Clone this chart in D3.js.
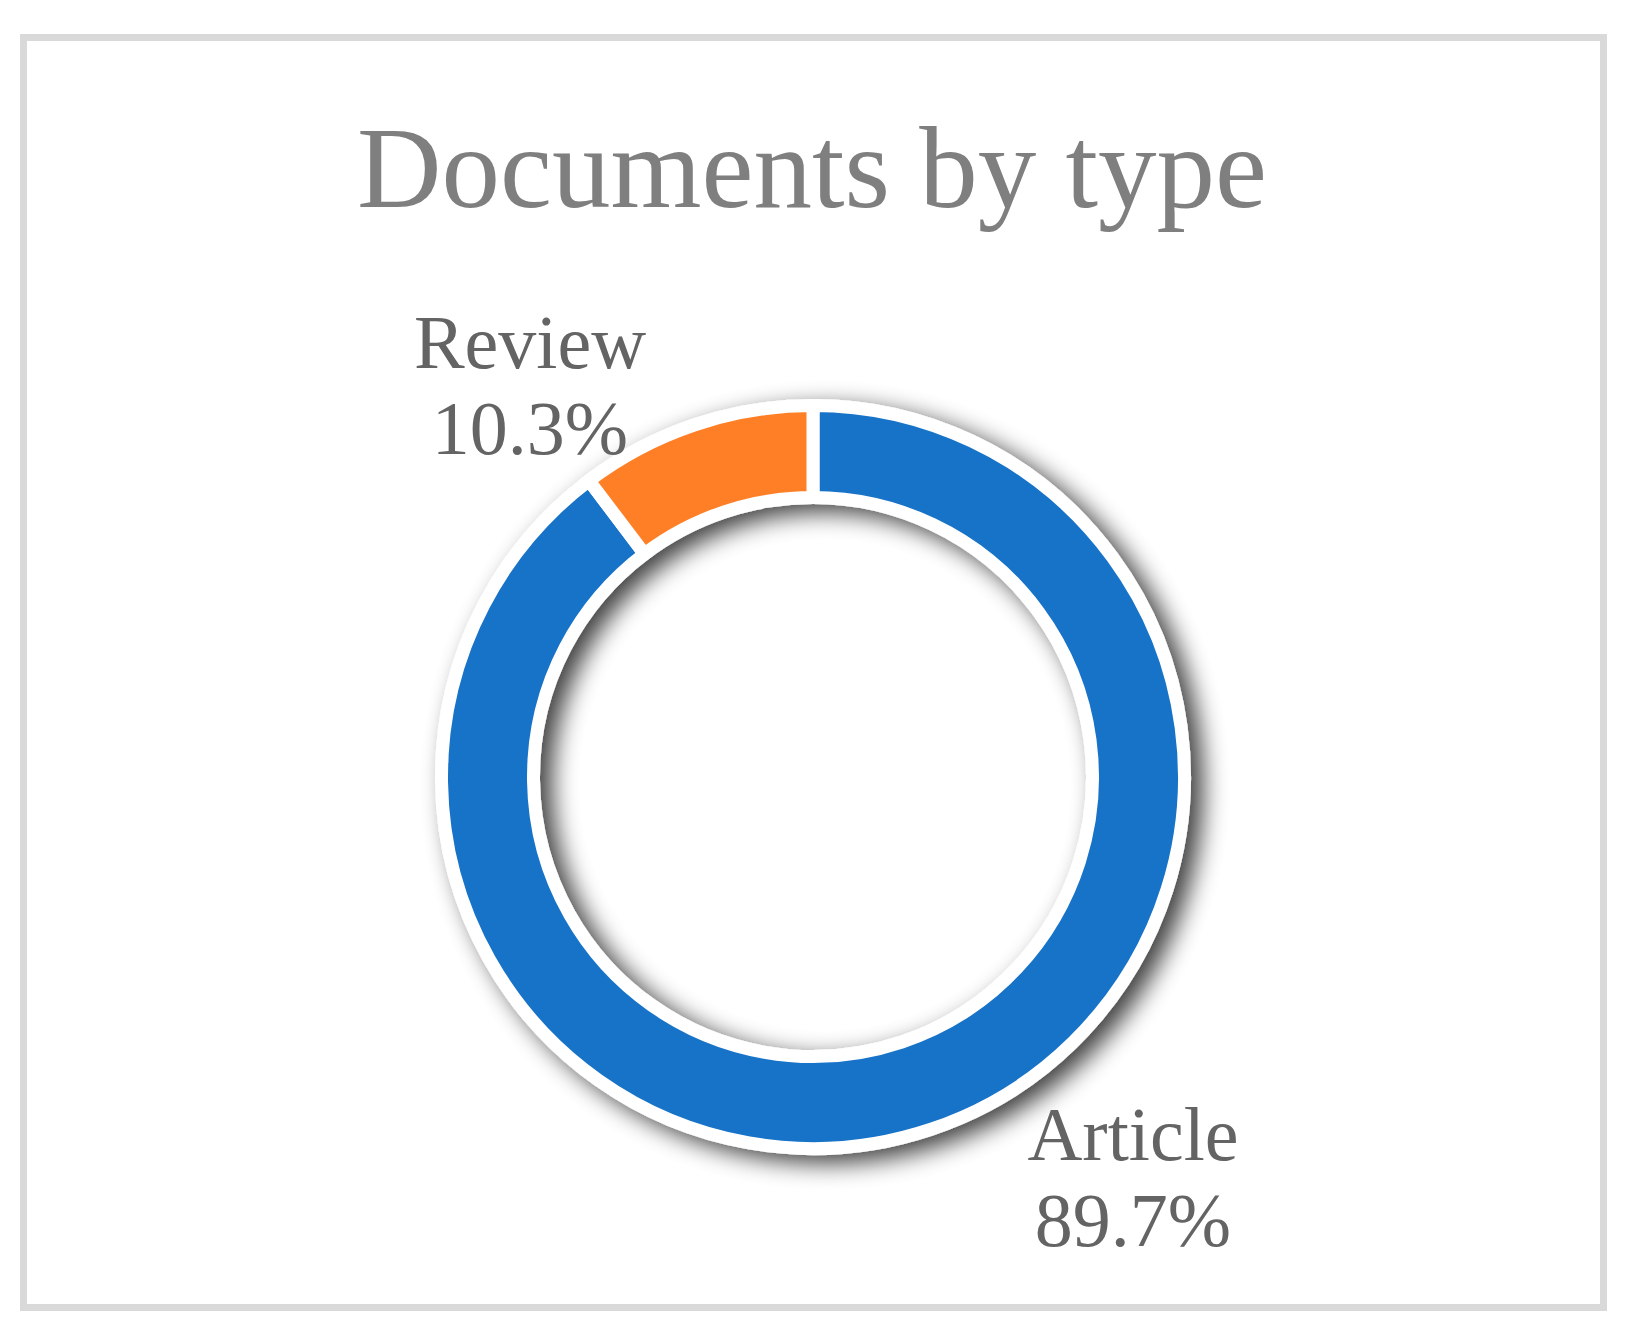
<!DOCTYPE html>
<html>
<head>
<meta charset="utf-8">
<script src="https://cdn.jsdelivr.net/npm/d3@7"></script>
<style>
  html, body { margin: 0; padding: 0; background: #ffffff; }
  svg { display: block; }
</style>
</head>
<body>
<div id="chart"></div>
<script>
// ---- data ----
const categories = ["Article", "Review"];
const values = [89.7, 10.3];
const labelTexts = ["89.7%", "10.3%"];
const colors = ["#1873c7", "#fe7f26"];
const title = "Documents by type";

// ---- layout ----
const W = 1631, H = 1337;
const cx = 813, cy = 777;
const outerR = 365, innerR = 286, strokeW = 13;
const labelPos = { "Article": [1133, 1160], "Review": [530, 368] };
const labelLine = 86;

const svg = d3.select("#chart").append("svg")
  .attr("width", W).attr("height", H);

const defs = svg.append("defs");
const f = defs.append("filter").attr("id", "shadow")
  .attr("x", "-20%").attr("y", "-20%").attr("width", "140%").attr("height", "140%");
f.append("feGaussianBlur").attr("in", "SourceAlpha").attr("stdDeviation", 12).attr("result", "b");
f.append("feOffset").attr("in", "b").attr("dx", 12).attr("dy", 8).attr("result", "o");
const ct = f.append("feComponentTransfer").attr("in", "o").attr("result", "s");
ct.append("feFuncA").attr("type", "linear").attr("slope", 0.75);
const m = f.append("feMerge");
m.append("feMergeNode").attr("in", "s");
m.append("feMergeNode").attr("in", "SourceGraphic");

// border
svg.append("rect")
  .attr("x", 23.5).attr("y", 37.5).attr("width", 1580).attr("height", 1270)
  .attr("fill", "#ffffff").attr("stroke", "#d9d9d9").attr("stroke-width", 7);

// title
svg.append("text")
  .attr("x", 812).attr("y", 207)
  .attr("text-anchor", "middle")
  .attr("font-family", "'Liberation Serif', 'Times New Roman', serif")
  .attr("font-size", 117)
  .attr("fill", "#7f7f7f")
  .text(title);

const data = categories.map((c, i) => ({ cat: c, value: values[i], label: labelTexts[i], color: colors[i] }));

const pie = d3.pie().sort(null).value(d => d.value);
const arc = d3.arc()
  .innerRadius(innerR - strokeW / 2)
  .outerRadius(outerR + strokeW / 2);

const g = svg.append("g")
  .attr("transform", `translate(${cx},${cy})`)
  .attr("filter", "url(#shadow)");

g.selectAll("path")
  .data(pie(data))
  .join("path")
  .attr("d", arc)
  .attr("fill", d => d.data.color)
  .attr("stroke", "#ffffff")
  .attr("stroke-width", strokeW)
  .attr("stroke-linejoin", "miter");

// labels
const lg = svg.append("g");
data.forEach(d => {
  const [x, y] = labelPos[d.cat];
  const t = lg.append("text")
    .attr("text-anchor", "middle")
    .attr("font-family", "'Liberation Serif', 'Times New Roman', serif")
    .attr("font-size", 76)
    .attr("fill", "#646464");
  t.append("tspan").attr("x", x).attr("y", y).text(d.cat);
  t.append("tspan").attr("x", x).attr("y", y + labelLine).text(d.label);
});
</script>
</body>
</html>
